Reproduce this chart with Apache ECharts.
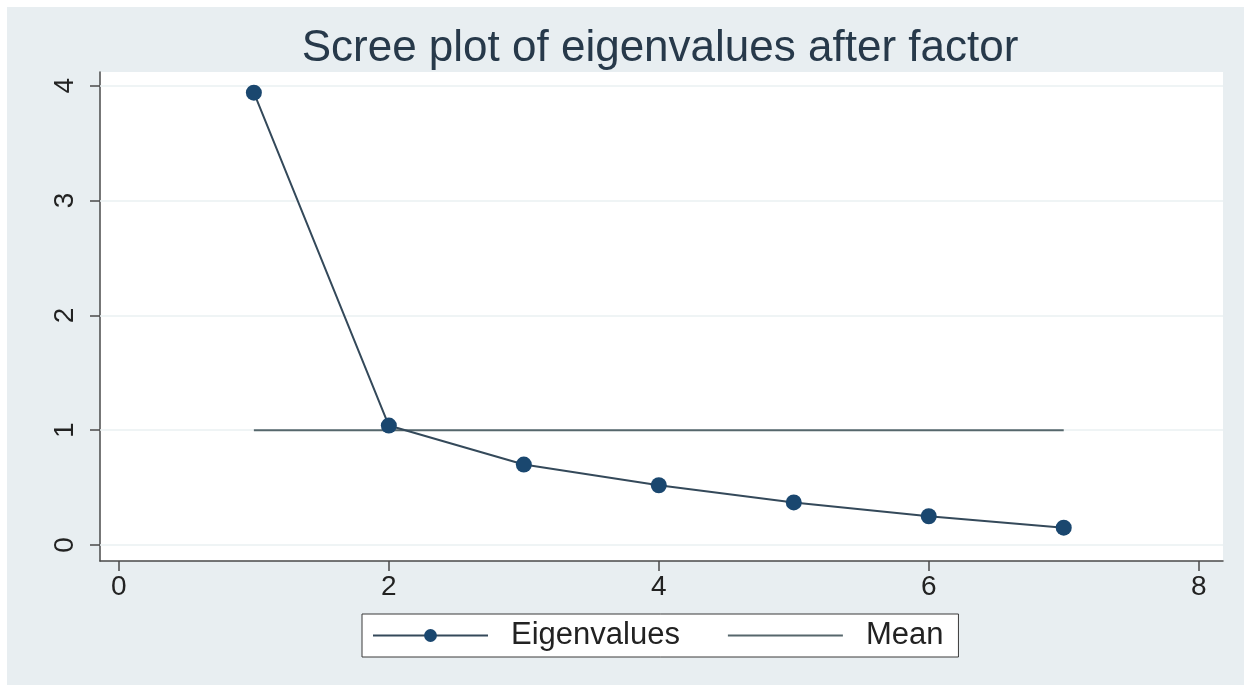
<!DOCTYPE html>
<html>
<head>
<meta charset="utf-8">
<script src="https://cdn.jsdelivr.net/npm/echarts@6/dist/echarts.min.js"></script>
<style>
    body { margin: 0; background: #ffffff; }
    #chart { position: absolute; left: 7px; top: 7px; width: 1237px; height: 678px; }
</style>
</head>
<body>
<div id="chart"></div>
<script>
var factorNums = [1, 2, 3, 4, 5, 6, 7];
var eigenvalues = [3.94, 1.04, 0.70, 0.52, 0.37, 0.25, 0.15];
var meanX = [1, 7];
var meanValue = 1;
var xTicks = [0, 2, 4, 6, 8];
var yTicks = [0, 1, 2, 3, 4];

var fontName = '"Liberation Sans", Arial, sans-serif';

var eigenData = factorNums.map(function (x, i) { return [x, eigenvalues[i]]; });
var meanData = meanX.map(function (x) { return [x, meanValue]; });
var gridLines = yTicks.map(function (v) { return {yAxis: v}; });

var option = {
    backgroundColor: '#e8eef1',
    animation: false,
    textStyle: {fontFamily: fontName},
    graphic: [{
        type: 'text',
        x: 653,
        y: 42,
        style: {
            text: 'Scree plot of eigenvalues after factor',
            fill: '#27394a',
            font: '44px ' + fontName,
            textAlign: 'center',
            textVerticalAlign: 'middle'
        }
    }],
    grid: {
        left: 93,
        top: 65,
        right: 21,
        bottom: 124,
        show: true,
        backgroundColor: '#ffffff',
        borderWidth: 0
    },
    legend: {
        data: ['Eigenvalues', 'Mean'],
        left: 355,
        top: 607,
        backgroundColor: '#ffffff',
        borderColor: '#3a3a3a',
        borderWidth: 1,
        borderRadius: 0,
        padding: [6, 15, 6, 10],
        itemWidth: 115,
        itemHeight: 16,
        itemGap: 47,
        textStyle: {
            fontSize: 31,
            color: '#222222',
            fontFamily: fontName,
            padding: [0, 0, 0, 18]
        }
    },
    xAxis: {
        type: 'value',
        min: -0.14,
        max: 8.18,
        splitLine: {show: false},
        axisLine: {onZero: false, lineStyle: {color: '#4a4a4a', width: 1.5}},
        axisTick: {
            customValues: xTicks,
            length: 10,
            lineStyle: {color: '#4a4a4a', width: 1.5}
        },
        axisLabel: {
            customValues: xTicks,
            fontSize: 28,
            color: '#222222',
            margin: 12
        }
    },
    yAxis: {
        type: 'value',
        min: -0.14,
        max: 4.12,
        splitLine: {show: false},
        axisLine: {show: true, onZero: false, lineStyle: {color: '#4a4a4a', width: 1.5}},
        axisTick: {
            show: true,
            customValues: yTicks,
            length: 10,
            lineStyle: {color: '#4a4a4a', width: 1.5}
        },
        axisLabel: {
            customValues: yTicks,
            fontSize: 28,
            color: '#222222',
            rotate: 90,
            margin: 21
        }
    },
    series: [
        {
            name: 'gridlines',
            type: 'line',
            data: [],
            silent: true,
            z: 1,
            markLine: {
                silent: true,
                z: 1,
                symbol: ['none', 'none'],
                label: {show: false},
                lineStyle: {color: '#eaf0f2', width: 1.5, type: 'solid'},
                data: gridLines
            }
        },
        {
            name: 'Mean',
            type: 'line',
            data: meanData,
            symbol: 'none',
            z: 3,
            itemStyle: {color: 'rgba(0,0,0,0)'},
            lineStyle: {color: '#56676c', width: 2}
        },
        {
            name: 'Eigenvalues',
            type: 'line',
            data: eigenData,
            symbol: 'circle',
            symbolSize: 16,
            z: 4,
            itemStyle: {color: '#1a476f'},
            lineStyle: {color: '#34495a', width: 2}
        }
    ]
};

var chart = echarts.init(document.getElementById('chart'));
chart.setOption(option);
</script>
</body>
</html>
